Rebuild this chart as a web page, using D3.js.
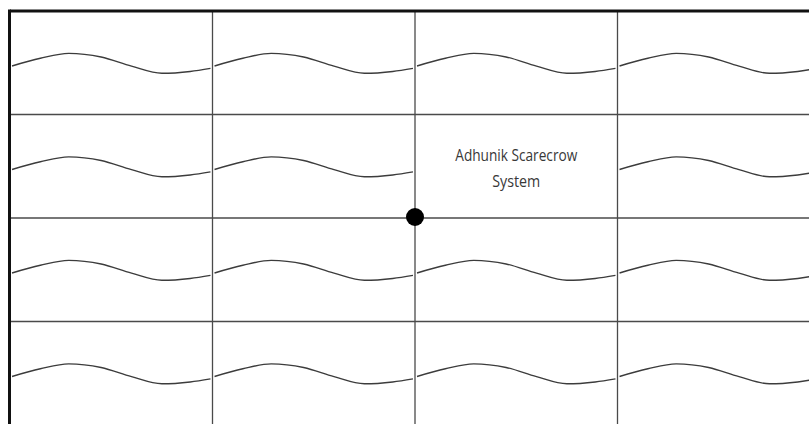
<!DOCTYPE html>
<html>
<head>
<meta charset="utf-8">
<script src="https://cdn.jsdelivr.net/npm/d3@7"></script>
<style>
  html, body { margin: 0; padding: 0; background: #fff; }
  svg { display: block; }
</style>
</head>
<body>
<div id="chart"></div>
<script>
// grid of cells (4 x 4), the picture is cut off on the right and bottom
var cols = [0, 1, 2, 3];
var rows = [0, 1, 2, 3];

// one wave shape: x and y as a fraction of a cell
var waveX = [0.01, 0.15, 0.29, 0.45, 0.6, 0.75, 0.89, 0.99];
var waveY = [0.531, 0.457, 0.409, 0.444, 0.533, 0.602, 0.584, 0.554];

// the cell with the label instead of a wave
var labelCell = [2, 1];
var labelLines = ['Adhunik Scarecrow', 'System'];

// the dot sits on a grid crossing
var dotPoint = [2, 2];

var width = 809, height = 424;

var svg = d3.select('#chart').append('svg')
    .attr('width', width)
    .attr('height', height);

var x = d3.scaleLinear().domain([0, 4]).range([10, 820]);
var y = d3.scaleLinear().domain([0, 4]).range([11, 425]);

//inner grid lines
svg.selectAll('line.v').data(cols.slice(1))
    .enter().append('line')
    .attr('class', 'v')
    .attr('x1', function(d) { return x(d); })
    .attr('x2', function(d) { return x(d); })
    .attr('y1', y(0))
    .attr('y2', height)
    .style('stroke', '#4a4a4a')
    .style('stroke-width', 1.3);

svg.selectAll('line.h').data(rows.slice(1))
    .enter().append('line')
    .attr('class', 'h')
    .attr('y1', function(d) { return y(d); })
    .attr('y2', function(d) { return y(d); })
    .attr('x1', x(0))
    .attr('x2', width)
    .style('stroke', '#4a4a4a')
    .style('stroke-width', 1.3);

// waves
var cells = [];
rows.forEach(function(r) {
    cols.forEach(function(c) {
        if (!(c === labelCell[0] && r === labelCell[1])) cells.push([c, r]);
    });
});

var line = d3.line()
    .x(function(d) { return d[0]; })
    .y(function(d) { return d[1]; })
    .curve(d3.curveMonotoneX);

svg.selectAll('path.wave').data(cells)
    .enter().append('path')
    .attr('class', 'wave')
    .attr('d', function(cell) {
        return line(waveX.map(function(fx, i) {
            return [x(cell[0] + fx), y(cell[1] + waveY[i])];
        }));
    })
    .style('fill', 'none')
    .style('stroke', '#3c3c3c')
    .style('stroke-width', 1.4);

// label
svg.append('text')
    .attr('text-anchor', 'middle')
    .style('font-family', '"Open Sans", sans-serif')
    .style('font-size', '17px')
    .style('fill', '#383838')
    .selectAll('tspan').data(labelLines)
    .enter().append('tspan')
    .attr('x', x(labelCell[0] + 0.5))
    .attr('y', function(d, i) { return y(labelCell[1]) + 46 + i * 26.5; })
    .attr('textLength', function(d, i) { return i === 0 ? 122 : 48; })
    .attr('lengthAdjust', 'spacingAndGlyphs')
    .text(function(d) { return d; });

// outer border (top and left only, rest is cut off)
svg.append('line')
    .attr('x1', x(0)).attr('x2', width)
    .attr('y1', y(0)).attr('y2', y(0))
    .style('stroke', '#111').style('stroke-width', 3);
svg.append('line')
    .attr('x1', x(0) - 0.5).attr('x2', x(0) - 0.5)
    .attr('y1', y(0) - 1.5).attr('y2', height)
    .style('stroke', '#111').style('stroke-width', 3);

// dot
svg.append('circle')
    .attr('cx', x(dotPoint[0]))
    .attr('cy', y(dotPoint[1]) - 1)
    .attr('r', 9)
    .style('fill', '#000');
</script>
</body>
</html>
